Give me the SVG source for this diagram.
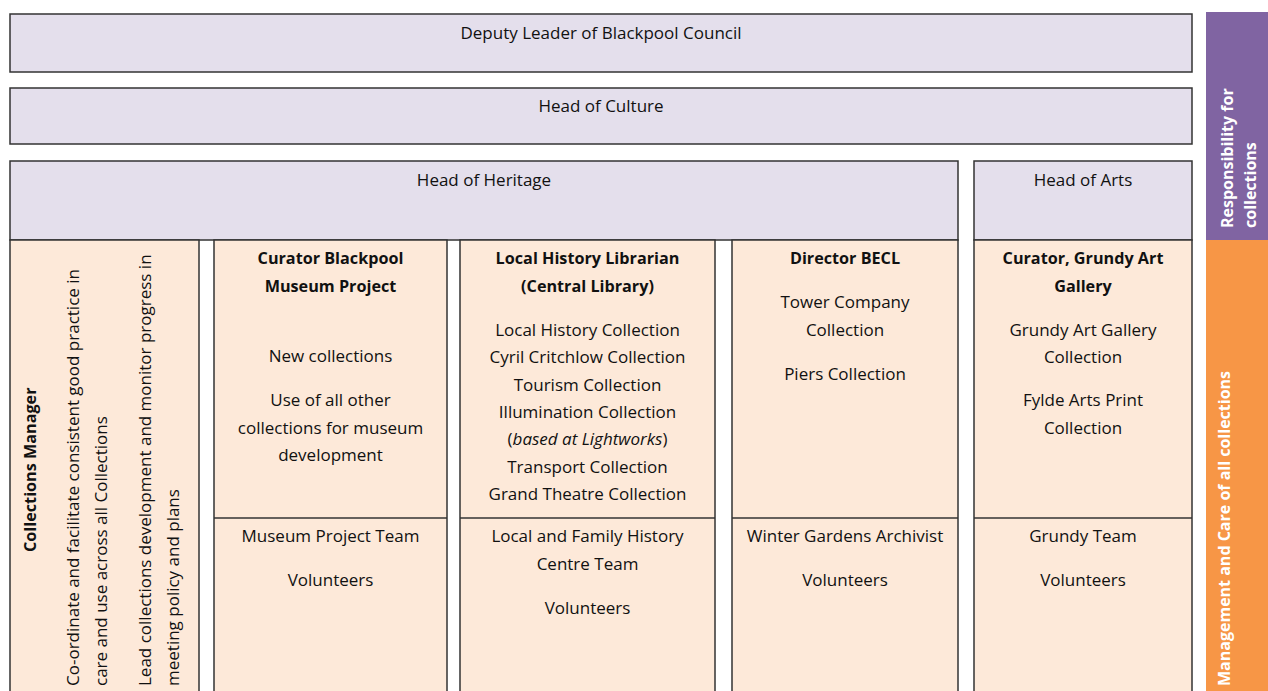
<svg xmlns="http://www.w3.org/2000/svg" width="1268" height="691" viewBox="0 0 1268 691">
  <style>
    .lav { fill: #E4DFEC; stroke: #333; stroke-width: 1.5; }
    .peach { fill: #FDE9D9; stroke: #333; stroke-width: 1.5; }
    .line { stroke: #333; stroke-width: 1.5; fill: none; }
    text { font-family: "Open Sans", Lato, "Liberation Sans", sans-serif; font-size: 17px; fill: #111; }
    .c { text-anchor: middle; }
    .b { font-weight: bold; font-size: 16.2px; }
    .w { fill: #fff; font-weight: bold; font-size: 16px; }
  </style>

  <rect width="1268" height="691" fill="#fff"/>

  <!-- Council level -->
  <g id="deputy-leader">
    <rect class="lav" x="10" y="14" width="1182" height="58"/>
    <text class="c" x="601" y="39">Deputy Leader of Blackpool Council</text>
  </g>

  <g id="head-of-culture">
    <rect class="lav" x="10" y="88" width="1182" height="56"/>
    <text class="c" x="601" y="112">Head of Culture</text>
  </g>

  <g id="head-of-heritage">
    <rect class="lav" x="10" y="161" width="948" height="79"/>
    <text class="c" x="484" y="186">Head of Heritage</text>
  </g>

  <g id="head-of-arts">
    <rect class="lav" x="974" y="161" width="218" height="79"/>
    <text class="c" x="1083" y="186">Head of Arts</text>
  </g>

  <!-- Collections manager column -->
  <g id="collections-manager">
    <rect class="peach" x="10" y="240" width="189" height="460"/>
    <text class="b" transform="translate(36 552) rotate(-90)">Collections Manager</text>
    <text transform="translate(79 686) rotate(-90)">Co-ordinate and facilitate consistent good practice in</text>
    <text transform="translate(107 686) rotate(-90)">care and use across all Collections</text>
    <text transform="translate(151 686) rotate(-90)">Lead collections development and monitor progress in</text>
    <text transform="translate(179 686) rotate(-90)">meeting policy and plans</text>
  </g>

  <!-- Curator, Blackpool Museum Project -->
  <g id="curator-museum">
    <rect class="peach" x="214" y="240" width="233" height="460"/>
    <line class="line" x1="214" y1="518" x2="447" y2="518"/>
    <text class="c b" x="330.5" y="264">Curator Blackpool</text>
    <text class="c b" x="330.5" y="292">Museum Project</text>
    <text class="c" x="330.5" y="362">New collections</text>
    <text class="c" x="330.5" y="406">Use of all other</text>
    <text class="c" x="330.5" y="434">collections for museum</text>
    <text class="c" x="330.5" y="461">development</text>
    <text class="c" x="330.5" y="542">Museum Project Team</text>
    <text class="c" x="330.5" y="586">Volunteers</text>
  </g>

  <!-- Local History Librarian -->
  <g id="local-history-librarian">
    <rect class="peach" x="460" y="240" width="255" height="460"/>
    <line class="line" x1="460" y1="518" x2="715" y2="518"/>
    <text class="c b" x="587.5" y="264">Local History Librarian</text>
    <text class="c b" x="587.5" y="292">(Central Library)</text>
    <text class="c" x="587.5" y="336">Local History Collection</text>
    <text class="c" x="587.5" y="363">Cyril Critchlow Collection</text>
    <text class="c" x="587.5" y="391">Tourism Collection</text>
    <text class="c" x="587.5" y="418">Illumination Collection</text>
    <text class="c" x="587.5" y="445">(<tspan font-style="italic">based at Lightworks</tspan>)</text>
    <text class="c" x="587.5" y="473">Transport Collection</text>
    <text class="c" x="587.5" y="500">Grand Theatre Collection</text>
    <text class="c" x="587.5" y="542">Local and Family History</text>
    <text class="c" x="587.5" y="570">Centre Team</text>
    <text class="c" x="587.5" y="614">Volunteers</text>
  </g>

  <!-- Director BECL -->
  <g id="director-becl">
    <rect class="peach" x="732" y="240" width="226" height="460"/>
    <line class="line" x1="732" y1="518" x2="958" y2="518"/>
    <text class="c b" x="845" y="264">Director BECL</text>
    <text class="c" x="845" y="308">Tower Company</text>
    <text class="c" x="845" y="336">Collection</text>
    <text class="c" x="845" y="380">Piers Collection</text>
    <text class="c" x="845" y="542">Winter Gardens Archivist</text>
    <text class="c" x="845" y="586">Volunteers</text>
  </g>

  <!-- Curator, Grundy Art Gallery -->
  <g id="curator-grundy">
    <rect class="peach" x="974" y="240" width="218" height="460"/>
    <line class="line" x1="974" y1="518" x2="1192" y2="518"/>
    <text class="c b" x="1083" y="264">Curator, Grundy Art</text>
    <text class="c b" x="1083" y="292">Gallery</text>
    <text class="c" x="1083" y="336">Grundy Art Gallery</text>
    <text class="c" x="1083" y="363">Collection</text>
    <text class="c" x="1083" y="406">Fylde Arts Print</text>
    <text class="c" x="1083" y="434">Collection</text>
    <text class="c" x="1083" y="542">Grundy Team</text>
    <text class="c" x="1083" y="586">Volunteers</text>
  </g>

  <!-- Side legend bars -->
  <g id="responsibility-bar">
    <rect x="1206" y="12" width="62" height="228" fill="#8064A2"/>
    <text class="w" transform="translate(1233 228) rotate(-90)">Responsibility for</text>
    <text class="w" transform="translate(1256 228) rotate(-90)">collections</text>
  </g>

  <g id="management-bar">
    <rect x="1206" y="240" width="62" height="451" fill="#F79646"/>
    <text class="w" transform="translate(1230 686) rotate(-90)">Management and Care of all collections</text>
  </g>
</svg>
